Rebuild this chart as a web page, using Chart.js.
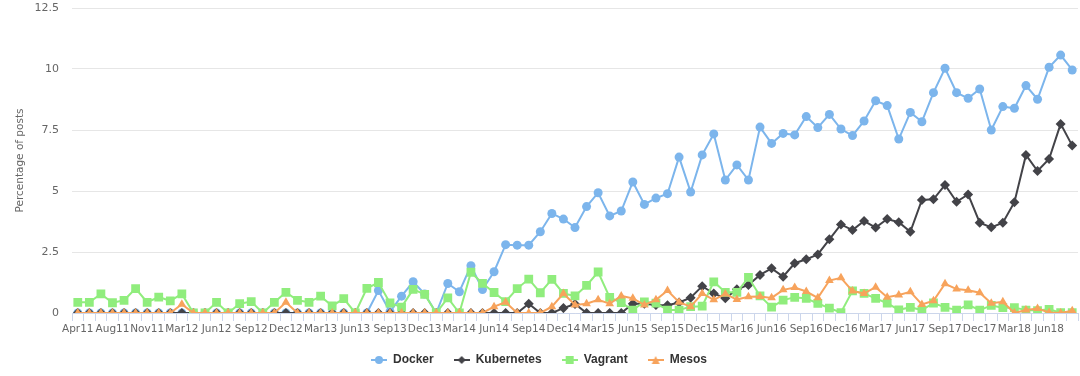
<!DOCTYPE html>
<html>
<head>
<meta charset="utf-8">
<script src="https://cdn.jsdelivr.net/npm/chart.js@4"></script>
<style>
  body { margin: 0; background: #fff; }
</style>
</head>
<body>
<canvas id="chart" width="1080" height="376"></canvas>
<script>
var months = ['Apr11','May11','Jun11','Aug11','Sep11','Oct11','Nov11','Dec11','Jan12',
  'Mar12','Apr12','May12','Jun12','Jul12','Aug12','Sep12','Oct12','Nov12','Dec12',
  'Jan13','Feb13','Mar13','Apr13','May13','Jun13','Jul13','Aug13','Sep13','Oct13','Nov13','Dec13',
  'Jan14','Feb14','Mar14','Apr14','May14','Jun14','Jul14','Aug14','Sep14','Oct14','Nov14','Dec14',
  'Jan15','Feb15','Mar15','Apr15','May15','Jun15','Jul15','Aug15','Sep15','Oct15','Nov15','Dec15',
  'Jan16','Feb16','Mar16','Apr16','May16','Jun16','Jul16','Aug16','Sep16','Oct16','Nov16','Dec16',
  'Jan17','Feb17','Mar17','Apr17','May17','Jun17','Jul17','Aug17','Sep17','Oct17','Nov17','Dec17',
  'Jan18','Feb18','Mar18','Apr18','May18','Jun18','Jul18','Aug18'];

var docker = [0,0,0,0,0,0,0,0,0,0, 0,0,0,0,0,0,0,0,0,0, 0,0,0,0,0,0,
  0.92,0.05,0.69,1.28,0.78,0,1.21,0.87,1.94,0.96,
  1.69,2.8,2.78,2.78,3.33,4.08,3.85,3.5,4.36,4.93,
  3.98,4.18,5.37,4.45,4.71,4.89,6.39,4.96,6.48,7.34,
  5.45,6.07,5.45,7.62,6.95,7.36,7.3,8.05,7.6,8.14,
  7.54,7.27,7.87,8.7,8.5,7.13,8.22,7.84,9.03,10.03,
  9.03,8.8,9.18,7.5,8.46,8.39,9.32,8.76,10.07,10.57,9.96];

var kubernetes = [0,0,0,0,0,0,0,0,0,0, 0,0,0,0,0,0,0,0,0,0,
  0,0,0,0,0,0,0,0,0,0, 0,0,0,0,0,0,0,0,0,
  0.38,0,0,0.2,0.37,0,0,0,0,0.38,0.38,
  0.33,0.32,0.43,0.63,1.1,0.8,0.6,0.97,1.15,1.56,
  1.83,1.49,2.04,2.2,2.4,3.02,3.63,3.4,3.77,3.5,
  3.85,3.72,3.33,4.63,4.66,5.25,4.56,4.86,3.7,3.51,
  3.7,4.54,6.48,5.82,6.31,7.75,6.86];

var vagrant = [0.44,0.44,0.78,0.42,0.52,1.0,0.44,0.65,0.5,0.78,
  0,0,0.44,0,0.38,0.47,0,0.44,0.85,0.52,
  0.44,0.69,0.29,0.59,0,1.01,1.25,0.41,0.24,0.97,
  0.76,0,0.62,0,1.67,1.21,0.84,0.47,1.0,1.39,
  0.83,1.38,0.8,0.7,1.13,1.68,0.64,0.43,0.12,0.46,
  0.4,0.12,0.12,0.26,0.28,1.28,0.85,0.85,1.46,0.7,
  0.24,0.53,0.64,0.6,0.39,0.2,0.02,0.91,0.8,0.6,
  0.4,0.13,0.23,0.12,0.41,0.23,0.12,0.33,0.12,0.31,
  0.22,0.22,0.12,0.1,0.15,0.01,0.01];

var mesos = [0,0,0,0,0,0,0,0,0,0.36,
  0,0,0,0,0,0,0,0,0.44,0,
  0,0,0,0,0,0,0,0,0,0,
  0,0,0,0,0,0,0.26,0.44,0,0,
  0,0.26,0.8,0.33,0.38,0.54,0.38,0.7,0.6,0.33,
  0.54,0.92,0.44,0.26,0.8,0.54,0.78,0.55,0.67,0.68,
  0.62,0.95,1.04,0.88,0.62,1.33,1.44,0.9,0.8,1.06,
  0.65,0.74,0.87,0.35,0.5,1.2,0.98,0.93,0.83,0.4,
  0.46,0,0.12,0.18,0.02,0,0.09];

var yTicks = [0, 2.5, 5, 7.5, 10, 12.5];

var axisFont = { family: 'DejaVu Sans', size: 11 };

// little "line + marker" legend symbols, like the original
function legendIcon(color, shape) {
  var c = document.createElement('canvas');
  c.width = 16; c.height = 12;
  var g = c.getContext('2d');
  g.strokeStyle = color; g.fillStyle = color; g.lineWidth = 2;
  g.beginPath(); g.moveTo(0, 6); g.lineTo(16, 6); g.stroke();
  g.beginPath();
  if (shape === 'circle') g.arc(8, 6, 4, 0, Math.PI * 2);
  else if (shape === 'diamond') { g.moveTo(8, 2); g.lineTo(12, 6); g.lineTo(8, 10); g.lineTo(4, 6); g.closePath(); }
  else if (shape === 'square') g.rect(4, 2, 8, 8);
  else { g.moveTo(8, 2); g.lineTo(12, 10); g.lineTo(4, 10); g.closePath(); }
  g.fill();
  return c;
}
var icons = [legendIcon('#7cb5ec', 'circle'), legendIcon('#434348', 'diamond'),
             legendIcon('#90ed7d', 'square'), legendIcon('#f7a35c', 'triangle')];

function series(label, data, color, style, radius, order) {
  return {
    label: label, data: data,
    borderColor: color, backgroundColor: color,
    borderWidth: 2, tension: 0,
    pointStyle: style, pointRadius: radius, pointBorderWidth: 0,
    pointBackgroundColor: color, order: order
  };
}

var ctx = document.getElementById('chart');
var chart = new Chart(ctx, {
  type: 'line',
  data: {
    labels: months,
    datasets: [
      series('Docker', docker, '#7cb5ec', 'circle', 4.5, 3),
      series('Kubernetes', kubernetes, '#434348', 'rectRot', 5, 2),
      series('Vagrant', vagrant, '#90ed7d', 'rect', 6.2, 1),
      series('Mesos', mesos, '#f7a35c', 'triangle', 5, 0)
    ]
  },
  options: {
    responsive: false,
    animation: false,
    layout: { autoPadding: false, padding: { left: 0, right: 2, top: 8, bottom: 0 } },
    plugins: {
      tooltip: { enabled: false },
      legend: {
        position: 'bottom',
        maxHeight: 43,
        labels: {
          usePointStyle: true,
          pointStyleWidth: 16,
          padding: 20,
          color: '#333333',
          font: { family: 'Liberation Sans', size: 12, weight: 'bold' },
          sort: function (a, b) { return a.datasetIndex - b.datasetIndex; },
          generateLabels: function (chart) {
            var items = Chart.defaults.plugins.legend.labels.generateLabels(chart);
            items.forEach(function (it) { it.pointStyle = icons[it.datasetIndex]; });
            return items;
          }
        }
      }
    },
    scales: {
      x: {
        offset: true,
        grid: { offset: true, drawOnChartArea: false, color: '#ccd6eb', tickLength: 8 },
        border: { color: '#ccd6eb' },
        ticks: {
          autoSkip: false, maxRotation: 0, minRotation: 0, padding: 2,
          color: '#666666', font: { family: 'DejaVu Sans', size: 10.5 },
          callback: function (v, i) { return i % 3 === 0 ? this.getLabelForValue(v) : ''; }
        },
        afterFit: function (s) { s.height = 21; s.paddingLeft = 0; s.paddingRight = 0; }
      },
      y: {
        min: yTicks[0], max: yTicks[yTicks.length - 1],
        afterBuildTicks: function (s) { s.ticks = yTicks.map(function (v) { return { value: v }; }); },
        ticks: { padding: 0, color: '#666666', font: axisFont },
        grid: { color: '#e6e6e6', drawTicks: true, tickLength: 13, tickColor: 'rgba(0,0,0,0)' },
        border: { display: false },
        title: {
          display: true, text: 'Percentage of posts', color: '#666666',
          font: { family: 'DejaVu Sans', size: 10.5 }, padding: { top: 14, bottom: 0 }
        },
        afterFit: function (s) { s.width = 72; }
      }
    }
  }
});
</script>
</body>
</html>
